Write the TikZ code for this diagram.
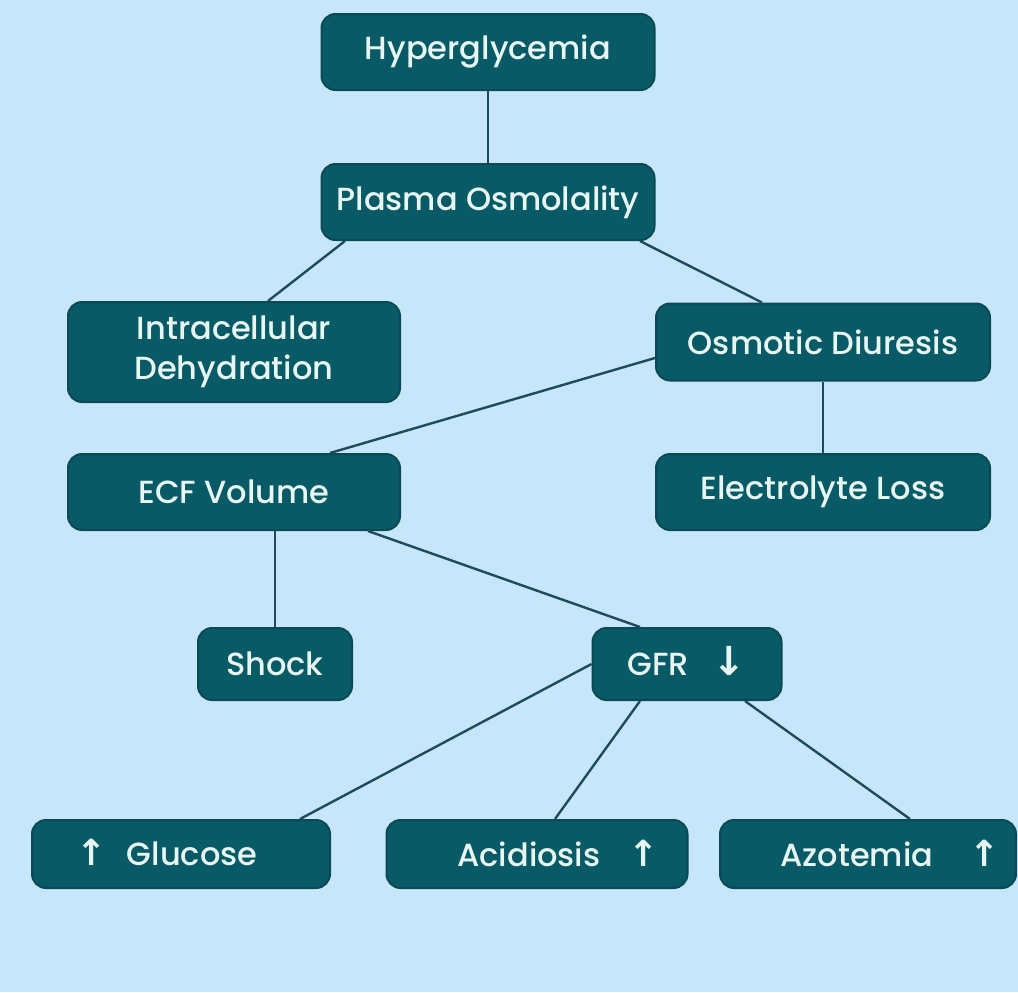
\documentclass[tikz,border=0pt]{standalone}
\usepackage{fontspec}
\setmainfont{Poppins}[UprightFont=* Medium]
\newfontfamily\arrowfont{DejaVu Sans}
\usetikzlibrary{calc}
\definecolor{bgblue}{HTML}{C8E6F9}
\definecolor{boxteal}{HTML}{075A66}
\definecolor{boxedge}{HTML}{0A4A55}
\definecolor{boxtext}{HTML}{E8F6F2}
\definecolor{linkcol}{HTML}{1E4B5C}
\newcommand{\upar}{\smash{\arrowfont\bfseries\fontsize{18}{18}\selectfont ↑}}
\newcommand{\downar}{\smash{\arrowfont\bfseries\fontsize{20}{20}\selectfont ↓}}

\begin{document}
\begin{tikzpicture}[x=0.5pt, y=-0.5pt,
    box/.style={rectangle, rounded corners=7pt, fill=boxteal, draw=boxedge,
        line width=1pt, text=boxtext, font=\fontsize{16}{20}\selectfont,
        align=center, inner sep=0pt},
    link/.style={draw=linkcol, line width=1.2pt}]
    \fill[bgblue] (0,0) rectangle (1018,992);
    \useasboundingbox (0,0) rectangle (1018,992);

    \node[box, minimum width=166.5pt, minimum height=38pt] (hyper) at (488,52) {Hyperglycemia};
    \node[box, minimum width=166.5pt, minimum height=38pt] (plasma) at (488,202) {Plasma Osmolality};
    \node[box, minimum width=166pt, minimum height=50pt] (intra) at (234,352) {Intracellular\\Dehydration};
    \node[box, minimum width=167pt, minimum height=38.5pt] (osmotic) at (823,342) {Osmotic Diuresis};
    \node[box, minimum width=166pt, minimum height=38pt] (ecf) at (234,492) {ECF Volume};
    \node[box, minimum width=167pt, minimum height=38pt] (elec) at (823,492) {Electrolyte Loss};
    \node[box, minimum width=77pt, minimum height=36pt] (shock) at (275,664) {Shock};
    \node[box, minimum width=94.5pt, minimum height=36pt] (gfr) at (687,664) {GFR\hspace{12pt}\downar};
    \node[box, minimum width=149pt, minimum height=34pt] (glucose) at (181,854) {\upar\hspace{10pt}Glucose\hspace{14pt}};
    \node[box, minimum width=150.5pt, minimum height=34pt] (acid) at (537,854) {\hspace{21pt}Acidiosis\hspace{14pt}\upar};
    \node[box, minimum width=148pt, minimum height=34pt] (azot) at (868,854) {\hspace{22pt}Azotemia\hspace{18pt}\upar};

    % connectors
    \draw[link] (hyper.south) -- (plasma.north);
    \draw[link] ($(plasma.south)+(-143,0)$) -- ($(intra.north)+(34,0)$);
    \draw[link] ($(plasma.south)+(152,0)$) -- ($(osmotic.north)+(-61,0)$);
    \draw[link] ($(osmotic.west)+(0,16)$) -- ($(ecf.north)+(96,0)$);
    \draw[link] (osmotic.south) -- (elec.north);
    \draw[link] (shock.north |- ecf.south) -- (shock.north);
    \draw[link] ($(ecf.south)+(134,0)$) -- ($(gfr.north)+(-47,0)$);
    \draw[link] (gfr.west) -- ($(glucose.north)+(119,0)$);
    \draw[link] ($(gfr.south)+(-47,0)$) -- ($(acid.north)+(18,0)$);
    \draw[link] ($(gfr.south)+(58,0)$) -- ($(azot.north)+(42,0)$);
\end{tikzpicture}
\end{document}
